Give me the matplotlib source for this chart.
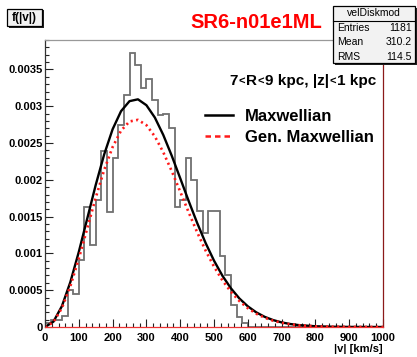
import numpy as np
import matplotlib
matplotlib.use('Agg')
import matplotlib.pyplot as plt
from matplotlib.lines import Line2D
from matplotlib.patches import Rectangle
from matplotlib.ticker import MultipleLocator, FuncFormatter
from matplotlib.offsetbox import TextArea, HPacker, AnchoredOffsetbox

# histogram of |v|, 60 bins of 1000/60 km/s, normalised
bin_edges = np.linspace(0, 1000, 61)
hist_density = [
    0.00005, 0.00010, 0.00010, 0.00015, 0.00050, 0.00045, 0.00091, 0.00163,
    0.00111, 0.00173, 0.00239, 0.00156, 0.00229, 0.00274, 0.00315, 0.00372,
    0.00356, 0.00325, 0.00337, 0.00308, 0.00288, 0.00290, 0.00270, 0.00163,
    0.00173, 0.00230, 0.00200, 0.00157, 0.00128, 0.00157, 0.00157, 0.00097,
    0.00071, 0.00030, 0.00014, 0.00005, 0, 0, 0, 0,
    0, 0, 0, 0, 0, 0, 0, 0,
    0, 0, 0, 0, 0, 0, 0, 0,
    0, 0, 0, 0,
]

# fitted curves
speed = [0, 25, 50, 75, 100, 125, 150, 175, 200, 225, 250, 275, 300, 325,
         350, 375, 400, 425, 450, 475, 500, 525, 550, 575, 600, 625, 650,
         675, 700, 725, 750, 800, 850, 900, 1000]
maxwellian = [0, 0.0000726, 0.000283, 0.000610, 0.001020, 0.001474, 0.001929,
              0.002344, 0.002687, 0.002933, 0.003069, 0.003094, 0.003014,
              0.002846, 0.002609, 0.002327, 0.002022, 0.001713, 0.001416,
              0.001143, 0.000902, 0.000696, 0.000526, 0.000388, 0.000281,
              0.000199, 0.000138, 0.0000940, 0.0000626, 0.0000409, 0.0000262,
              0.0000101, 0.0000036, 0.0000012, 0]
gen_maxwellian = [0, 0.0000661, 0.000258, 0.000555, 0.000928, 0.001341,
                  0.001755, 0.002133, 0.002445, 0.002669, 0.002793, 0.002815,
                  0.002743, 0.002590, 0.002374, 0.002118, 0.001840, 0.001559,
                  0.001289, 0.001040, 0.000821, 0.000633, 0.000479, 0.000353,
                  0.000256, 0.000181, 0.000126, 0.0000855, 0.0000570,
                  0.0000372, 0.0000238, 0.0000092, 0.0000033, 0.0000011, 0]

stats = [('Entries', '1181'), ('Mean', '310.2'), ('RMS', '114.5')]

W, H = 417, 357
fig = plt.figure(figsize=(W / 100, H / 100), dpi=100)
ax = fig.add_axes([45 / W, 30 / H, 338 / W, 287 / H])

ax.stairs(hist_density, bin_edges, color='#707070', linewidth=1.3)
ax.plot(speed, maxwellian, color='black', linewidth=1.7)
ax.plot(speed, gen_maxwellian, color='#ff1a1a', linewidth=1.9,
        linestyle=(0, (0.8, 1.3)))

ax.set_xlim(0, 1000)
ax.set_ylim(0, 0.0039)
ax.xaxis.set_major_locator(MultipleLocator(100))
ax.xaxis.set_minor_locator(MultipleLocator(20))
ax.yaxis.set_major_locator(MultipleLocator(0.0005))
ax.yaxis.set_minor_locator(MultipleLocator(0.0001))
ax.yaxis.set_major_formatter(FuncFormatter(
    lambda v, _: '0' if abs(v) < 1e-9 else f'{v:.4f}'.rstrip('0')))

tick_font = {'family': 'Liberation Sans', 'weight': 'bold', 'size': 8}
ax.tick_params(which='both', direction='in', top=False, right=False,
               color='#222222', width=0.8)
ax.tick_params(which='major', length=6)
ax.tick_params(which='minor', length=3)
ax.tick_params(axis='y', pad=1.5)
ax.tick_params(axis='x', pad=4)
for lab in ax.get_xticklabels() + ax.get_yticklabels():
    lab.set_fontproperties(tick_font)
    lab.set_fontsize(8)

ax.spines['left'].set_color('#333333')
ax.spines['top'].set_color('#999999')
ax.spines['right'].set_color('#8b1a1a')
ax.spines['bottom'].set_color('#ee3333')
for s in ax.spines.values():
    s.set_linewidth(0.9)

ax.set_xlabel('|v| [km/s]', loc='right', fontfamily='Liberation Sans',
              fontweight='bold', fontsize=8, labelpad=1)

# region label, with the small "<" signs of the original
big = dict(family='Liberation Sans', weight='bold', size=11)
small = dict(family='Liberation Sans', weight='bold', size=8)
pieces = [('7', big), ('<', small), ('R', big), ('<', small),
          ('9 kpc, |z|', big), ('<', small), ('1 kpc', big)]
packer = HPacker(children=[TextArea(t, textprops=p) for t, p in pieces],
                 align='baseline', pad=0, sep=0.5)
region = AnchoredOffsetbox(loc='center right', child=packer, pad=0,
                           borderpad=0, frameon=False,
                           bbox_to_anchor=((376 - 45) / 338, (327 - 81) / 287),
                           bbox_transform=ax.transAxes)
ax.add_artist(region)

handles = [Line2D([], [], color='black', linewidth=1.8),
           Line2D([], [], color='#ff1a1a', linewidth=1.8,
                  linestyle=(0, (2.2, 1.6)))]
ax.legend(handles, ['Maxwellian', 'Gen. Maxwellian'], loc='upper left',
          bbox_to_anchor=((205 - 45) / 338, (327 - 109) / 287),
          frameon=False, borderpad=0, borderaxespad=0, handlelength=1.7,
          handletextpad=0.7, labelspacing=0.35,
          prop={'family': 'Liberation Sans', 'weight': 'bold', 'size': 12})

# title
fig.text(256.5 / W, 1 - 22 / H, 'SR6-n01e1ML', color='#ff0000',
         fontfamily='Liberation Sans', fontweight='bold', fontsize=14.5,
         ha='center', va='center')


def box(x0, y0, x1, y1):
    # ROOT-like pave with a shadow, pixel coords from the top-left
    fig.patches.append(Rectangle((x0 / W + 1.5 / W, 1 - y1 / H - 1.5 / H),
                                 (x1 - x0) / W, (y1 - y0) / H,
                                 transform=fig.transFigure, facecolor='#222222',
                                 edgecolor='none', zorder=5))
    fig.patches.append(Rectangle((x0 / W, 1 - y1 / H), (x1 - x0) / W,
                                 (y1 - y0) / H, transform=fig.transFigure,
                                 facecolor='#f2f2f2', edgecolor='black',
                                 linewidth=0.9, zorder=6))


box(7, 9, 42, 26)
fig.text(24.5 / W, 1 - 17.5 / H, 'f(|v|)', fontfamily='Liberation Sans',
         fontweight='bold', fontsize=8.5, ha='center', va='center', zorder=7)

box(333, 6, 415, 63)
fig.add_artist(Line2D([333 / W, 415 / W], [1 - 20.5 / H, 1 - 20.5 / H],
                      transform=fig.transFigure, color='black',
                      linewidth=0.8, zorder=7))
sfont = {'family': 'Liberation Sans', 'size': 7.5}
fig.text(374 / W, 1 - 13.3 / H, 'velDiskmod', fontdict=sfont,
         ha='center', va='center', zorder=7)
for i, (name, val) in enumerate(stats):
    y = 1 - (27.7 + 14.5 * i) / H
    fig.text(337 / W, y, name, fontdict=sfont, ha='left', va='center',
             zorder=7)
    fig.text(412 / W, y, val, fontdict=sfont, ha='right', va='center',
             zorder=7)

fig.savefig('out.png', dpi=100)
